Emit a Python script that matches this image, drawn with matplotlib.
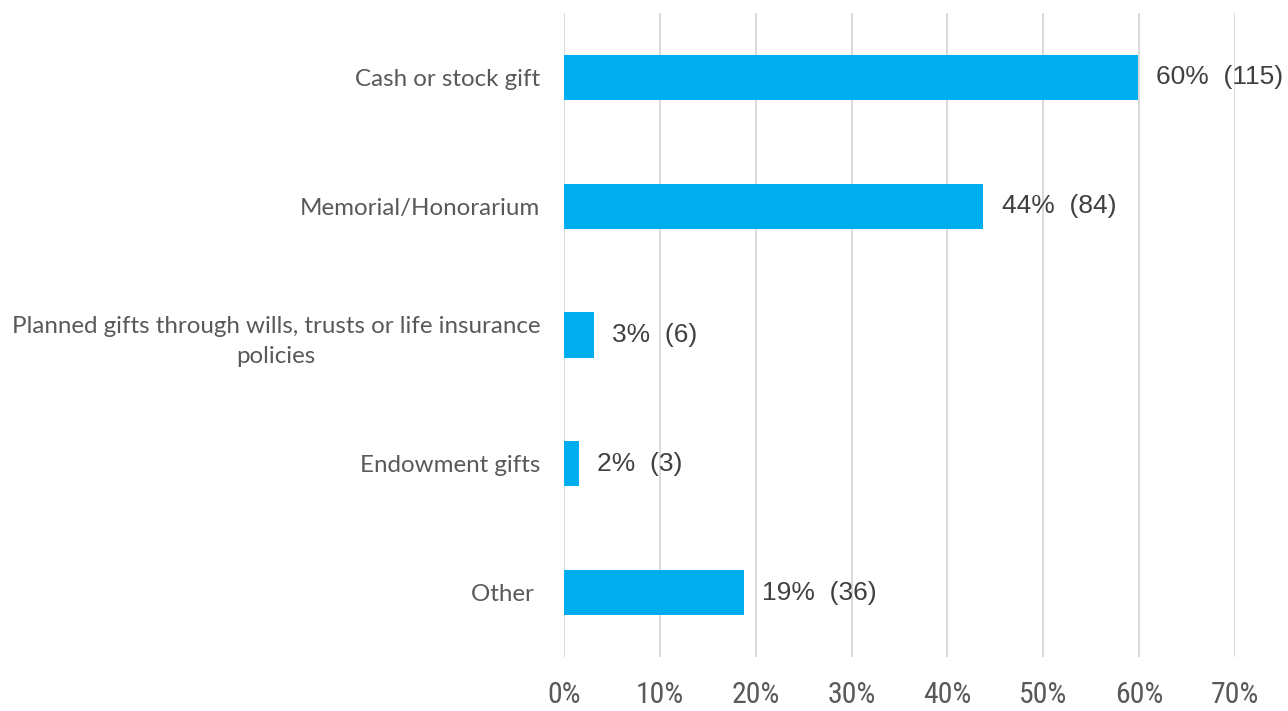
import matplotlib.pyplot as plt
from matplotlib import font_manager

# Gift types and respondent counts (n = 192)
categories = [
    "Cash or stock gift",
    "Memorial/Honorarium",
    "Planned gifts through wills, trusts or life insurance\npolicies",
    "Endowment gifts",
    "Other ",
]
counts = [115, 84, 6, 3, 36]
total = 192
shares = [c / total for c in counts]
ticks = [0, 0.1, 0.2, 0.3, 0.4, 0.5, 0.6, 0.7]
tick_labels = ["0%", "10%", "20%", "30%", "40%", "50%", "60%", "70%"]


def pick_narrow_font():
    # look for an installed condensed sans face for the axis numbers
    narrow = [f for f in font_manager.fontManager.ttflist
              if str(f.stretch) in ("condensed", "semi-condensed", "extra-condensed")
              and f.style == "normal" and f.weight in (400, "normal", "regular", "book")]
    for pref in ("Liberation Sans Narrow", "Roboto Condensed", "DejaVu Sans"):
        for f in narrow:
            if f.name == pref:
                return font_manager.FontProperties(fname=f.fname)
    if narrow:
        return font_manager.FontProperties(fname=narrow[0].fname)
    return font_manager.FontProperties(family="Liberation Sans")


tick_font = pick_narrow_font()
tick_font.set_size(21.5)

fig = plt.figure(figsize=(12.88, 7.11), dpi=100)
ax = fig.add_axes([0.4379, 0.0759, 0.521, 0.9058])

y = range(len(categories))
ax.barh(y, shares, height=0.35, color="#00AEEF", zorder=3)

for yi, s, c in zip(y, shares, counts):
    ax.text(s + 0.019, yi, f"{round(s * 100):.0f}%  ({c})", va="center", ha="left",
            fontsize=19, color="#404040", family="Liberation Sans", clip_on=False)

ax.set_xlim(0, 0.7)
ax.set_ylim(4.5, -0.5)
ax.set_xticks(ticks)
ax.set_xticklabels(tick_labels, fontproperties=tick_font, color="#595959")
ax.set_yticks(list(y))
ax.set_yticklabels(categories, family="Lato", fontsize=17.4, color="#595959",
                   multialignment="center", linespacing=1.5)
ax.tick_params(axis="x", length=0, pad=17)
ax.tick_params(axis="y", length=0, pad=17)

ax.grid(axis="x", color="#D9D9D9", linewidth=1.4, zorder=0)
ax.grid(axis="y", visible=False)
for sp in ax.spines.values():
    sp.set_visible(False)

fig.savefig("out.png", dpi=100)
